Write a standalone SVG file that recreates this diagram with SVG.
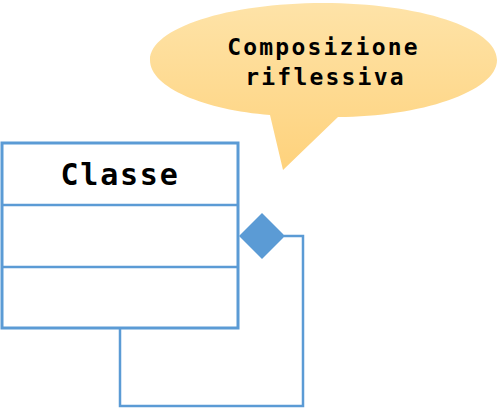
<svg xmlns="http://www.w3.org/2000/svg" width="500" height="410" viewBox="0 0 500 410">
<style>
.box{fill:#fff;stroke:#5b9bd5;stroke-width:3}
.line{fill:none;stroke:#5b9bd5;stroke-width:2.5}
.t{font-family:"DejaVu Sans Mono","Liberation Mono",monospace;font-weight:bold;fill:#000;text-anchor:middle}
</style>
<defs>
<linearGradient id="g" x1="0" y1="0" x2="0" y2="1">
<stop offset="0" stop-color="#fee3a8"/>
<stop offset="1" stop-color="#fed27c"/>
</linearGradient>
</defs>
<g id="bubble">
<path d="M323,3 C419,3 497,28 497,60 C497,92 419,117 338,117 L283,170 L270,115 C206,110 150,88 150,60 C150,28 228,3 323,3 Z" fill="url(#g)"/>
<text class="t" x="323.5" y="55" font-size="23" letter-spacing="2.2">Composizione</text>
<text class="t" x="325.5" y="85" font-size="23" letter-spacing="2.2">riflessiva</text>
</g>
<g id="classe">
<rect class="box" x="2" y="143" width="236" height="185"/>
<line class="line" stroke-width="3" x1="2" y1="205" x2="238" y2="205"/>
<line class="line" stroke-width="3" x1="2" y1="267" x2="238" y2="267"/>
<text class="t" x="120" y="185" font-size="30" letter-spacing="1.8">Classe</text>
</g>
<g id="connectors">
<polyline class="line" points="120,328 120,406 303,406 303,236 284,236"/>
<polygon points="239,236 262,213 285,236 262,259" fill="#5b9bd5"/>
</g>
</svg>
